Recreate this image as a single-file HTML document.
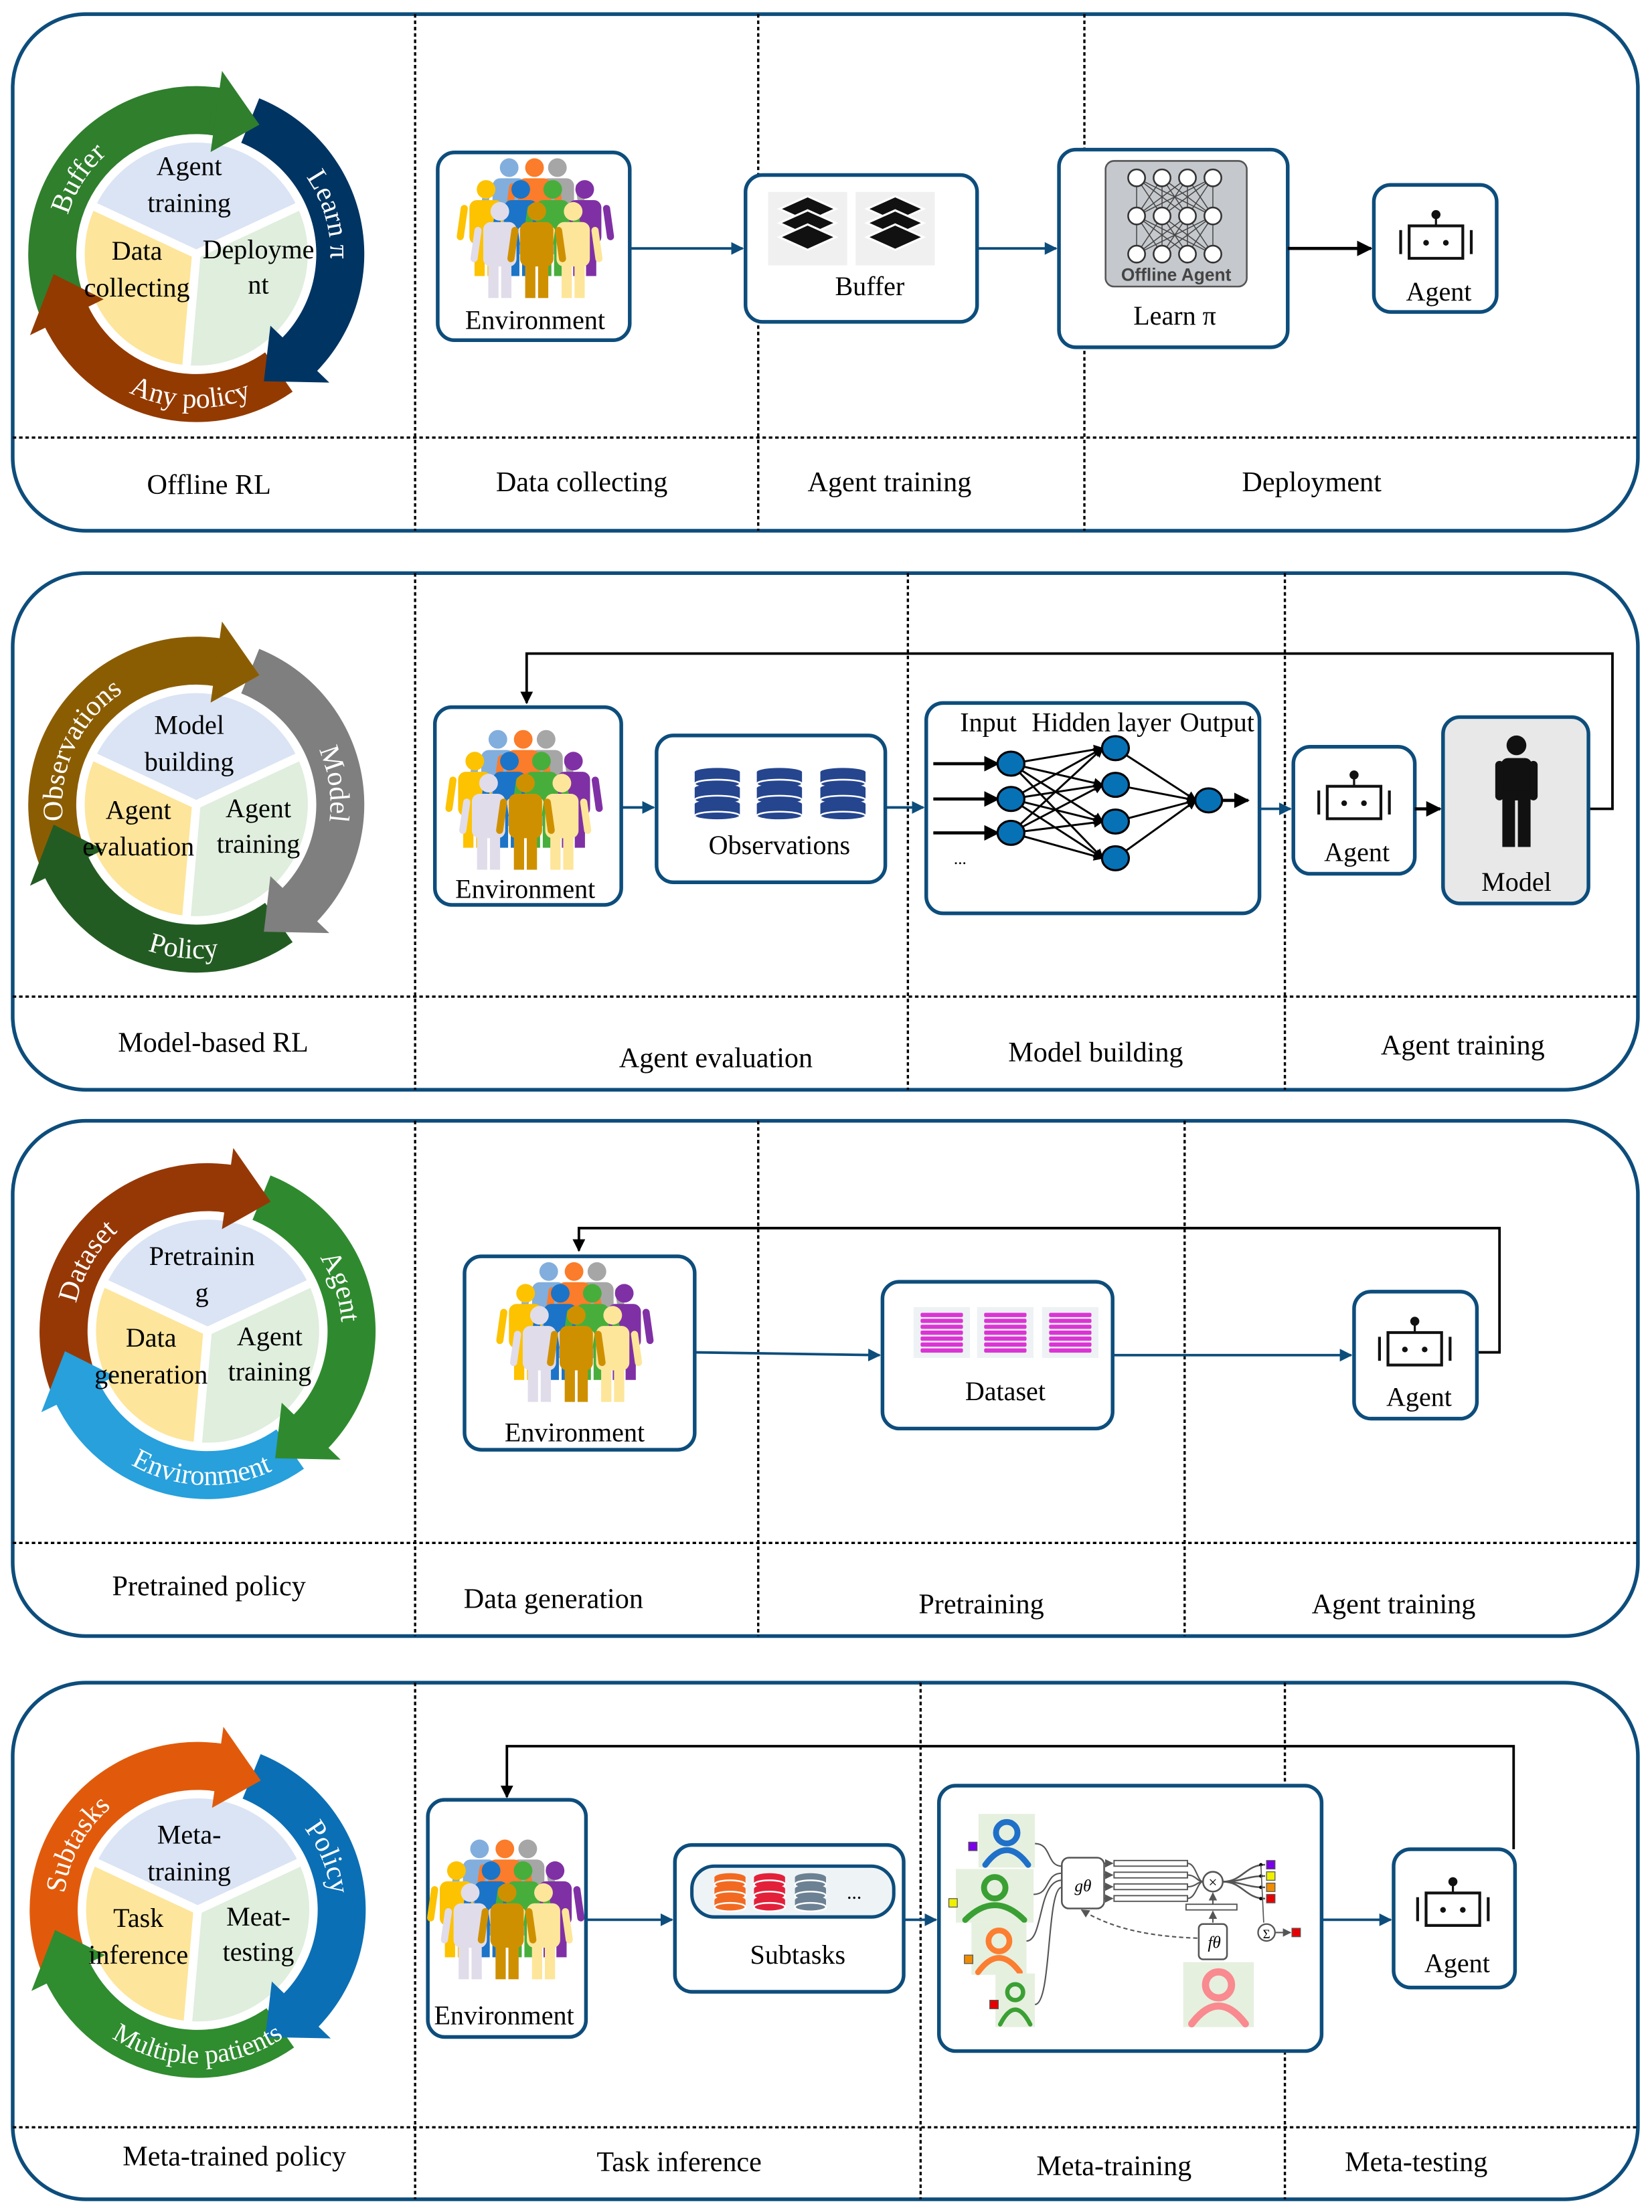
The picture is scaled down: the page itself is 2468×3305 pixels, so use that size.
<!DOCTYPE html>
<html><head><meta charset="utf-8">
<style>
html,body{margin:0;padding:0;background:#fff;}
svg{display:block;}
text{font-family:"Liberation Serif",serif;}
</style></head>
<body>
<svg id="s" width="2468" height="3305" viewBox="0 0 1170 1567" preserveAspectRatio="none" xmlns="http://www.w3.org/2000/svg">
<defs>
<marker id="ab" viewBox="0 0 10 10" refX="9" refY="5" markerWidth="5" markerHeight="5" orient="auto" markerUnits="strokeWidth"><path d="M0,0L10,5L0,10z" fill="#0d4d7c"/></marker>
<marker id="ak" viewBox="0 0 10 10" refX="9" refY="5" markerWidth="5" markerHeight="5" orient="auto" markerUnits="strokeWidth"><path d="M0,0L10,5L0,10z" fill="#000"/></marker>
<marker id="ag" viewBox="0 0 10 10" refX="9" refY="5" markerWidth="6" markerHeight="6" orient="auto" markerUnits="strokeWidth"><path d="M0,0L10,5L0,10z" fill="#555"/></marker>
<path id="t1a" d=""/><path id="t1b" d=""/><path id="t1c" d=""/>
<path id="t2a" d=""/><path id="t2b" d=""/><path id="t2c" d=""/>
<path id="t3a" d=""/><path id="t3b" d=""/><path id="t3c" d=""/>
<path id="t4a" d=""/><path id="t4b" d=""/><path id="t4c" d=""/>
</defs>
<g id="bg"></g>
<g id="fg" font-size="19" fill="#000">
<!-- Panel 1 -->
<text x="134" y="124" text-anchor="middle">Agent</text>
<text x="134" y="150" text-anchor="middle">training</text>
<text x="97" y="184" text-anchor="middle">Data</text>
<text x="97" y="210" text-anchor="middle">collecting</text>
<text x="183" y="183" text-anchor="middle">Deployme</text>
<text x="183" y="208" text-anchor="middle">nt</text>
<text font-size="20" fill="#fff"><textPath href="#t1a" startOffset="50%" text-anchor="middle">Buffer</textPath></text>
<text font-size="20" fill="#fff"><textPath href="#t1b" startOffset="50%" text-anchor="middle">Learn π</textPath></text>
<text font-size="20" fill="#fff"><textPath href="#t1c" startOffset="50%" text-anchor="middle">Any policy</textPath></text>
<text x="379" y="233" text-anchor="middle">Environment</text>
<text x="616" y="209" text-anchor="middle">Buffer</text>
<text x="832" y="230" text-anchor="middle">Learn π</text>
<text x="1019" y="213" text-anchor="middle">Agent</text>
<text x="148" y="350" text-anchor="middle" font-size="20">Offline RL</text>
<text x="412" y="348" text-anchor="middle" font-size="20">Data collecting</text>
<text x="630" y="348" text-anchor="middle" font-size="20">Agent training</text>
<text x="929" y="348" text-anchor="middle" font-size="20">Deployment</text>
<text x="833" y="199" text-anchor="middle" style="font-family:'Liberation Sans',sans-serif" font-size="12.5" font-weight="bold" fill="#444">Offline Agent</text>

<!-- Panel 2 -->
<text x="134" y="520" text-anchor="middle">Model</text>
<text x="134" y="546" text-anchor="middle">building</text>
<text x="98" y="580" text-anchor="middle">Agent</text>
<text x="98" y="606" text-anchor="middle">evaluation</text>
<text x="183" y="579" text-anchor="middle">Agent</text>
<text x="183" y="604" text-anchor="middle">training</text>
<text font-size="20" fill="#fff"><textPath href="#t2a" startOffset="50%" text-anchor="middle">Observations</textPath></text>
<text font-size="20" fill="#fff"><textPath href="#t2b" startOffset="50%" text-anchor="middle">Model</textPath></text>
<text font-size="20" fill="#fff"><textPath href="#t2c" startOffset="50%" text-anchor="middle">Policy</textPath></text>
<text x="372" y="636" text-anchor="middle">Environment</text>
<text x="552" y="605" text-anchor="middle">Observations</text>
<text x="700" y="518" text-anchor="middle">Input</text>
<text x="780" y="518" text-anchor="middle">Hidden layer</text>
<text x="862" y="518" text-anchor="middle">Output</text>
<text x="680" y="612" text-anchor="middle" font-size="12">...</text>
<text x="961" y="610" text-anchor="middle">Agent</text>
<text x="1074" y="631" text-anchor="middle">Model</text>
<text x="151" y="745" text-anchor="middle" font-size="20">Model-based RL</text>
<text x="507" y="756" text-anchor="middle" font-size="20">Agent evaluation</text>
<text x="776" y="752" text-anchor="middle" font-size="20">Model building</text>
<text x="1036" y="747" text-anchor="middle" font-size="20">Agent training</text>

<!-- Panel 3 -->
<text x="143" y="896" text-anchor="middle">Pretrainin</text>
<text x="143" y="922" text-anchor="middle">g</text>
<text x="107" y="954" text-anchor="middle">Data</text>
<text x="107" y="980" text-anchor="middle">generation</text>
<text x="191" y="953" text-anchor="middle">Agent</text>
<text x="191" y="978" text-anchor="middle">training</text>
<text font-size="20" fill="#fff"><textPath href="#t3a" startOffset="50%" text-anchor="middle">Dataset</textPath></text>
<text font-size="20" fill="#fff"><textPath href="#t3b" startOffset="50%" text-anchor="middle">Agent</textPath></text>
<text font-size="20" fill="#fff"><textPath href="#t3c" startOffset="50%" text-anchor="middle">Environment</textPath></text>
<text x="407" y="1021" text-anchor="middle">Environment</text>
<text x="712" y="992" text-anchor="middle">Dataset</text>
<text x="1005" y="996" text-anchor="middle">Agent</text>
<text x="148" y="1130" text-anchor="middle" font-size="20">Pretrained policy</text>
<text x="392" y="1139" text-anchor="middle" font-size="20">Data generation</text>
<text x="695" y="1143" text-anchor="middle" font-size="20">Pretraining</text>
<text x="987" y="1143" text-anchor="middle" font-size="20">Agent training</text>

<!-- Panel 4 -->
<text x="134" y="1306" text-anchor="middle">Meta-</text>
<text x="134" y="1332" text-anchor="middle">training</text>
<text x="98" y="1365" text-anchor="middle">Task</text>
<text x="98" y="1391" text-anchor="middle">inference</text>
<text x="183" y="1364" text-anchor="middle">Meat-</text>
<text x="183" y="1389" text-anchor="middle">testing</text>
<text font-size="20" fill="#fff"><textPath href="#t4a" startOffset="50%" text-anchor="middle">Subtasks</textPath></text>
<text font-size="20" fill="#fff"><textPath href="#t4b" startOffset="50%" text-anchor="middle">Policy</textPath></text>
<text font-size="19" fill="#fff"><textPath href="#t4c" startOffset="50%" text-anchor="middle">Multiple patients</textPath></text>
<text x="357" y="1434" text-anchor="middle">Environment</text>
<text x="565" y="1391" text-anchor="middle">Subtasks</text>
<text x="605" y="1345" text-anchor="middle" font-size="14">...</text>
<text x="1032" y="1397" text-anchor="middle">Agent</text>
<text x="767" y="1340" text-anchor="middle" font-style="italic" font-size="12">gθ</text>
<text x="860" y="1380" text-anchor="middle" font-style="italic" font-size="12">fθ</text>
<text x="859" y="1337" text-anchor="middle" font-size="11">×</text>
<text x="897" y="1373" text-anchor="middle" font-size="9">Σ</text>
<text x="166" y="1534" text-anchor="middle" font-size="20">Meta-trained policy</text>
<text x="481" y="1538" text-anchor="middle" font-size="20">Task inference</text>
<text x="789" y="1541" text-anchor="middle" font-size="20">Meta-training</text>
<text x="1003" y="1538" text-anchor="middle" font-size="20">Meta-testing</text>
</g>
</svg>
<script>
(function(){
var NS="http://www.w3.org/2000/svg";
var bg=document.getElementById("bg");
function el(t,a,p){var e=document.createElementNS(NS,t);for(var k in a)e.setAttribute(k,a[k]);(p||bg).appendChild(e);return e;}
var BL="#0d4d7c";
function R(d){return d*Math.PI/180;}
function pt(cx,cy,r,a){return [cx+r*Math.cos(R(a)),cy+r*Math.sin(R(a))];}
function arcD(cx,cy,r,a0,a1,cw){var p0=pt(cx,cy,r,a0),p1=pt(cx,cy,r,a1);var large=Math.abs(a1-a0)>180?1:0;return "M"+p0[0].toFixed(2)+","+p0[1].toFixed(2)+" A"+r+","+r+" 0 "+large+" "+(cw?1:0)+" "+p1[0].toFixed(2)+","+p1[1].toFixed(2);}
function annulus(cx,cy,r1,r2,a0,a1,fill){var a=pt(cx,cy,r2,a0),b=pt(cx,cy,r2,a1),c=pt(cx,cy,r1,a1),d=pt(cx,cy,r1,a0);var lg=(a1-a0)>180?1:0;
 el("path",{d:"M"+a+" A"+r2+","+r2+" 0 "+lg+" 1 "+b+" L"+c+" A"+r1+","+r1+" 0 "+lg+" 0 "+d+"z",fill:fill});}
function cycle(cx,cy,segs,ids,lbl){
 var rm=102,w=34,r1=rm-w/2,r2=rm+w/2;
 el("circle",{cx:cx,cy:cy,r:r1-2,fill:"#fff"});
 var pr=82;
 var pie=[[205,335,"#dae4f4"],[335,455,"#dfeedd"],[95,205,"#fde59b"]];
 pie.forEach(function(s){var a=pt(cx,cy,pr,s[0]),b=pt(cx,cy,pr,s[1]);el("path",{d:"M"+cx+","+cy+" L"+a+" A"+pr+","+pr+" 0 0 1 "+b+"z",fill:s[2],stroke:"#fff","stroke-width":6,"stroke-linejoin":"round"});});
 segs.forEach(function(s){annulus(cx,cy,r1,r2,s[0],s[1]-13,s[2]);});
 segs.forEach(function(s){var e=s[1]-14;var p=pt(cx,cy,r2+12,e),q=pt(cx,cy,r1-12,e),t=pt(cx,cy,rm,s[1]+4);
  el("path",{d:"M"+p+" L"+t+" L"+q+"z",fill:s[2]});
  var bb=pt(cx,cy,r2,e),cc=pt(cx,cy,r1,e),b2=pt(cx,cy,r2,e-2),c2=pt(cx,cy,r1,e-2);
  el("path",{d:"M"+b2+" L"+bb+" L"+cc+" L"+c2+"z",fill:s[2]});});
 document.getElementById(ids[0]).setAttribute("d",arcD(cx,cy,rm-7,lbl[0][0],lbl[0][1],1));
 document.getElementById(ids[1]).setAttribute("d",arcD(cx,cy,rm-7,lbl[1][0],lbl[1][1],1));
 document.getElementById(ids[2]).setAttribute("d",arcD(cx,cy,rm+7,lbl[2][0],lbl[2][1],0));
}
function box(x,y,w,h,fill){el("rect",{x:x,y:y,width:w,height:h,rx:12,fill:fill||"#fff",stroke:BL,"stroke-width":2.6});}
function line(pts,mk,col){el("polyline",{points:pts,fill:"none",stroke:col||BL,"stroke-width":col=="#000"?2.2:1.8,"marker-end":"url(#"+mk+")"});}
function dash(x1,y1,x2,y2){el("line",{x1:x1,y1:y1,x2:x2,y2:y2,stroke:"#000","stroke-width":1.6,"stroke-dasharray":"2.5 2"});}
function panel(y,h,hy,xs){el("rect",{x:9,y:y,width:1151,height:h,rx:52,fill:"#fff",stroke:BL,"stroke-width":2.6});
 dash(9,hy,1160,hy);xs.forEach(function(x){dash(x,y,x,y+h);});}
function fig(g,hx,hy,c){el("circle",{cx:hx,cy:hy,r:42,fill:c},g);
 el("rect",{x:hx-75,y:hy+48,width:150,height:200,rx:34,fill:c},g);
 el("rect",{x:hx-112,y:hy+70,width:32,height:160,rx:16,fill:c,transform:"rotate(8 "+(hx-96)+" "+(hy+70)+")"},g);
 el("rect",{x:hx+80,y:hy+70,width:32,height:160,rx:16,fill:c,transform:"rotate(-8 "+(hx+96)+" "+(hy+70)+")"},g);
 el("rect",{x:hx-52,y:hy+200,width:46,height:190,fill:c},g);
 el("rect",{x:hx+6,y:hy+200,width:46,height:190,fill:c},g);}
function crowd(x,y,w){var s=w/680;var g=el("g",{transform:"translate("+x+","+y+") scale("+s+") translate(-140,-105)"});
 fig(g,360,148,"#82aedd");fig(g,577,148,"#a6a6a6");fig(g,474,148,"#fb7c2a");
 fig(g,256,246,"#fdc200");fig(g,700,246,"#8030a5");fig(g,412,246,"#1b74c7");fig(g,556,246,"#47ae3c");
 fig(g,318,345,"#e1dcea");fig(g,648,345,"#fde69a");fig(g,484,345,"#cf9000");}
function robot(cx,cy){el("circle",{cx:cx,cy:cy-19,r:3.2,fill:"#111"});el("line",{x1:cx,y1:cy-17,x2:cx,y2:cy-11,stroke:"#111","stroke-width":1.5});
 el("rect",{x:cx-19,y:cy-11,width:38,height:23,fill:"#fff",stroke:"#111","stroke-width":2});
 el("circle",{cx:cx-7,cy:cy+1,r:2,fill:"#111"});el("circle",{cx:cx+7,cy:cy+1,r:2,fill:"#111"});
 el("line",{x1:cx-25,y1:cy-8,x2:cx-25,y2:cy+9,stroke:"#111","stroke-width":2});el("line",{x1:cx+25,y1:cy-8,x2:cx+25,y2:cy+9,stroke:"#111","stroke-width":2});}
function db(cx,cy,c,w,h){w=w||32;h=h||34;var n=3,sh=h/n;for(var i=0;i<n;i++){var y0=cy-h/2+i*sh;
 el("rect",{x:cx-w/2,y:y0+2,width:w,height:sh-3,fill:c});el("ellipse",{cx:cx,cy:y0+2,rx:w/2,ry:3,fill:c});
 el("ellipse",{cx:cx,cy:y0+sh-1,rx:w/2,ry:3,fill:c,stroke:"#fff","stroke-width":1.2});}}
function pinkdb(cx,cy){el("rect",{x:cx-20,y:cy-18,width:40,height:36,fill:"#eef2f4"});for(var i=0;i<7;i++){el("rect",{x:cx-15,y:cy-14+i*4.2,width:30,height:3,fill:"#db34d4",rx:1});}}
function layers(cx,cy){el("rect",{x:cx-28,y:cy-26,width:56,height:52,fill:"#f0f0f0"});
 [-10,0,10].forEach(function(o){el("path",{d:"M"+(cx-20)+","+(cy+o-4)+" L"+cx+","+(cy+o-13)+" L"+(cx+20)+","+(cy+o-4)+" L"+cx+","+(cy+o+5)+"z",fill:"#111",stroke:"#fff","stroke-width":1.5});});}
function person(x,y,w,h,c,bgc){el("rect",{x:x,y:y,width:w,height:h,fill:bgc||"#e6f0df"});var cx=x+w/2;var r=Math.min(w,h)*0.2;
 el("circle",{cx:cx,cy:y+h*0.35,r:r,fill:"none",stroke:c,"stroke-width":r*0.55});
 el("path",{d:"M"+(x+w*0.12)+","+(y+h*0.95)+" Q"+cx+","+(y+h*0.4)+" "+(x+w*0.88)+","+(y+h*0.95),fill:"none",stroke:c,"stroke-width":r*0.55,"stroke-linecap":"round"});}

panel(10,366,310,[294,537,768]);
panel(406,366,706,[294,643,910]);
panel(794,365,1093,[294,537,839]);
panel(1192,366,1507,[294,652,910]);

cycle(139,180,[[155,292,"#2f7f2d"],[292,418,"#003462"],[55,168,"#933a00"]],["t1a","t1b","t1c"],[[185,240],[315,372],[140,45]]);
cycle(139,570,[[155,292,"#8b5d02"],[292,418,"#7f7f7f"],[55,168,"#235c22"]],["t2a","t2b","t2c"],[[160,250],[325,378],[135,55]]);
cycle(147,943,[[155,292,"#963806"],[292,418,"#2f8a2f"],[55,168,"#27a0dc"]],["t3a","t3b","t3c"],[[180,240],[318,365],[140,45]]);
cycle(140,1353,[[155,292,"#e15a0b"],[292,418,"#0b6fb5"],[55,168,"#2f8c2f"]],["t4a","t4b","t4c"],[[172,245],[308,368],[150,30]]);

box(310,108,136,133);crowd(326,112,107);
line("446,176 526,176","ab");
box(528,124,164,104);layers(572,162);layers(634,162);
line("692,176 748,176","ab");
box(750,106,162,140);
el("rect",{x:783,y:114,width:100,height:89,rx:6,fill:"#c5c8cc",stroke:"#555","stroke-width":1.2});
(function(){var xs=[805,823,841,859],ys=[126,153,180];for(var r=0;r<2;r++)for(var i=0;i<4;i++)for(var j=0;j<4;j++)el("line",{x1:xs[i],y1:ys[r],x2:xs[j],y2:ys[r+1],stroke:"#444","stroke-width":0.7});
 for(var r=0;r<3;r++)for(var i=0;i<4;i++)el("circle",{cx:xs[i],cy:ys[r],r:6,fill:"#fff",stroke:"#333","stroke-width":1.2});})();
line("912,176 971,176","ak","#000");
box(973,131,87,90);robot(1017,171);

el("polyline",{points:"1125,573 1142,573 1142,463 373,463 373,498",fill:"none",stroke:"#000","stroke-width":1.8,"marker-end":"url(#ak)"});
box(308,501,132,140);crowd(318,517,107);
line("440,572 463,572","ab");
box(465,521,162,104);db(508,562,"#25458e");db(552,562,"#25458e");db(597,562,"#25458e");
line("627,572 654,572","ab");
box(656,498,236,149);
(function(){var ins=[[716,541],[716,566],[716,590]],hid=[[790,530],[790,556],[790,582],[790,608]],out=[856,567];
 ins.forEach(function(p){line((p[0]-55)+","+p[1]+" "+(p[0]-9)+","+p[1],"ak","#000");});
 ins.forEach(function(p){hid.forEach(function(q){el("line",{x1:p[0],y1:p[1],x2:q[0]-9,y2:q[1],stroke:"#000","stroke-width":1.4,"marker-end":"url(#ak)"});});});
 hid.forEach(function(q){el("line",{x1:q[0],y1:q[1],x2:out[0]-9,y2:out[1],stroke:"#000","stroke-width":1.4,"marker-end":"url(#ak)"});});
 line("866,567 884,567","ak","#000");
 ins.concat(hid).concat([out]).forEach(function(p){el("ellipse",{cx:p[0],cy:p[1],rx:9.5,ry:8.5,fill:"#0771b6",stroke:"#000","stroke-width":1.5});});})();
line("892,573 914,573","ab");
box(916,529,86,90);robot(959,568);
line("1002,573 1020,573","ak","#000");
box(1022,508,103,132,"#e8e8e8");
(function(){var cx=1074;el("circle",{cx:cx,cy:528,r:7,fill:"#111"});el("rect",{x:cx-11,y:537,width:22,height:30,rx:5,fill:"#111"});
 el("rect",{x:cx-15,y:539,width:6,height:28,rx:3,fill:"#111"});el("rect",{x:cx+9,y:539,width:6,height:28,rx:3,fill:"#111"});
 el("rect",{x:cx-10,y:560,width:9,height:40,fill:"#111"});el("rect",{x:cx+1,y:560,width:9,height:40,fill:"#111"});})();

el("polyline",{points:"1046,958 1062,958 1062,870 410,870 410,886",fill:"none",stroke:"#000","stroke-width":1.8,"marker-end":"url(#ak)"});
box(329,890,163,137);crowd(354,894,107);
line("492,958 623,960","ab");
box(625,908,163,104);pinkdb(667,944);pinkdb(712,944);pinkdb(758,944);
line("788,960 957,960","ab");
box(959,915,87,90);robot(1002,955);

el("polyline",{points:"1072,1310 1072,1237 359,1237 359,1273",fill:"none",stroke:"#000","stroke-width":1.8,"marker-end":"url(#ak)"});
box(303,1275,112,168);crowd(305,1303,107);
line("415,1360 476,1360","ab");
box(478,1307,162,104);
el("rect",{x:490,y:1322,width:143,height:36,rx:16,fill:"#eef3f6",stroke:BL,"stroke-width":2.4});
db(517,1340,"#f26a22",22,24);db(545,1340,"#e3203a",22,24);db(574,1340,"#6c8193",22,24);
line("640,1360 663,1360","ab");
box(665,1265,271,188);
(function(){
 person(693,1285,40,38,"#1f70c8");person(677,1324,55,38,"#3aa033");person(688,1362,39,37,"#fb7e31");person(705,1398,28,38,"#3aa033");
 person(838,1390,50,46,"#f98a8f");
 [[686,1305,"#7a00e8"],[672,1345,"#eef000"],[683,1385,"#f08c00"],[701,1417,"#e80000"]].forEach(function(s){el("rect",{x:s[0],y:s[1],width:6,height:6,fill:s[2],stroke:"#555","stroke-width":0.6});});
 var G="#555";
 [[733,1306],[732,1342],[727,1375],[733,1420]].forEach(function(p,i){el("path",{d:"M"+p[0]+","+p[1]+" C"+(p[0]+12)+","+p[1]+" "+(p[0]+8)+","+(1322+i*5)+" 752,"+(1322+i*5),fill:"none",stroke:G,"stroke-width":1});});
 el("rect",{x:752,y:1316,width:30,height:36,rx:5,fill:"#fff",stroke:G,"stroke-width":1.2});
 for(var i=0;i<4;i++){var y=1320+i*8.3;el("line",{x1:782,y1:y,x2:788,y2:y,stroke:G,"stroke-width":1,"marker-end":"url(#ag)"});
  el("rect",{x:789,y:y-2,width:52,height:4,fill:"#fff",stroke:G,"stroke-width":0.9});
  el("path",{d:"M841,"+y+" C847,"+y+" 848,1333 852,1333",fill:"none",stroke:G,"stroke-width":1});}
 el("circle",{cx:859,cy:1333,r:7,fill:"#fff",stroke:G,"stroke-width":1.2});
 el("rect",{x:840,y:1349,width:36,height:4,fill:"#fff",stroke:G,"stroke-width":0.9});
 el("line",{x1:859,y1:1349,x2:859,y2:1341,stroke:G,"stroke-width":1,"marker-end":"url(#ag)"});
 el("line",{x1:859,y1:1362,x2:859,y2:1354,stroke:G,"stroke-width":1,"marker-end":"url(#ag)"});
 el("rect",{x:849,y:1363,width:20,height:25,rx:3,fill:"#fff",stroke:G,"stroke-width":1.2});
 el("path",{d:"M848,1373 C820,1372 790,1368 766,1353",fill:"none",stroke:G,"stroke-width":1,"stroke-dasharray":"3 2","marker-end":"url(#ag)"});
 [[1321,"#7a00e8"],[1329,"#eef000"],[1337,"#f08c00"],[1345,"#e80000"]].forEach(function(s){el("path",{d:"M866,1333 C880,1333 882,"+s[0]+" 896,"+s[0],fill:"none",stroke:G,"stroke-width":1.2});el("circle",{cx:893,cy:s[0],r:1.2,fill:"#000"});el("rect",{x:897,y:s[0]-3,width:6,height:6,fill:s[1],stroke:"#555","stroke-width":0.6});});
 el("line",{x1:893,y1:1321,x2:895,y2:1362,stroke:G,"stroke-width":0.8});
 el("circle",{cx:897,cy:1369,r:6,fill:"#fff",stroke:G,"stroke-width":1.1});
 el("line",{x1:903,y1:1369,x2:914,y2:1369,stroke:G,"stroke-width":1,"marker-end":"url(#ag)"});
 el("rect",{x:915,y:1366,width:6,height:6,fill:"#e80000",stroke:"#555","stroke-width":0.6});
})();
line("936,1360 985,1360","ab");
box(987,1310,86,98);robot(1029,1352);
})();
</script>
</body></html>
